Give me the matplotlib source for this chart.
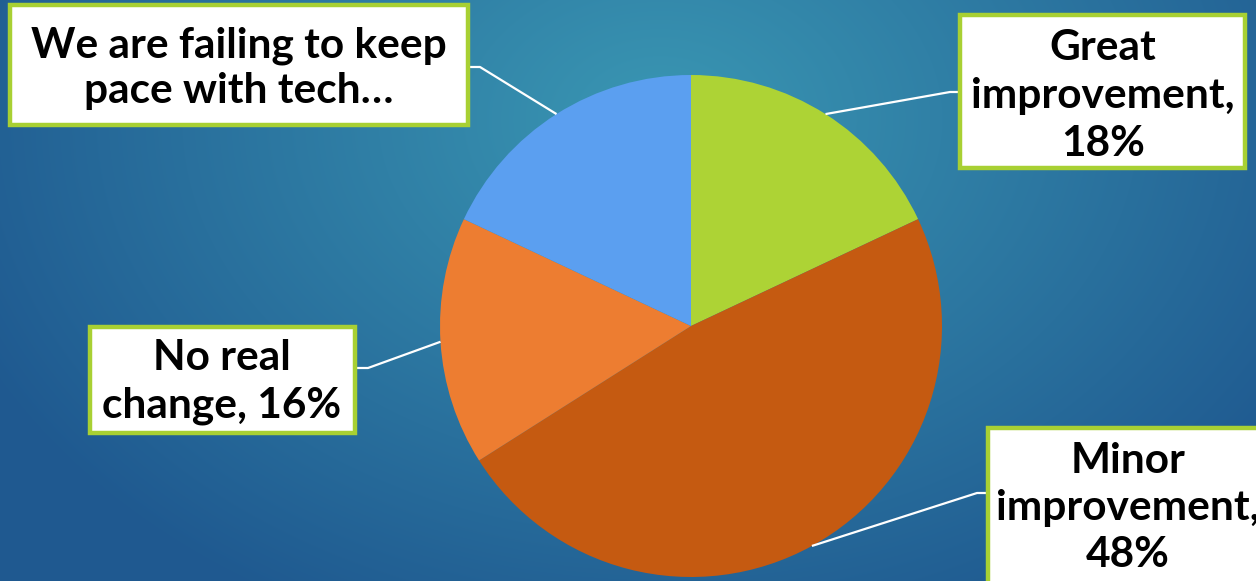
import numpy as np
import matplotlib
matplotlib.use("Agg")
import matplotlib.pyplot as plt
from matplotlib.patches import Rectangle
from matplotlib.colors import to_rgb

# ---- data ----
categories = ["Great improvement", "Minor improvement", "No real change",
              "We are failing to keep pace with tech…"]
values = [18, 48, 16, 18]
label_texts = ["Great\nimprovement,\n18%", "Minor\nimprovement,\n48%",
               "No real\nchange, 16%", "We are failing to keep\npace with tech…"]
colors = ["#ADD335", "#C55A11", "#ED7D31", "#5B9FF0"]

W, H = 1256, 581
fig = plt.figure(figsize=(W / 100, H / 100), dpi=100)
ax = fig.add_axes([0, 0, 1, 1])

# background radial gradient
yy, xx = np.mgrid[0:H, 0:W]
cx, cy = 660, H - 120
d = np.sqrt(((xx - cx) / 760.0) ** 2 + ((yy - cy) / 560.0) ** 2)
d = np.clip(d, 0, 1)[..., None]
inner = np.array(to_rgb("#3A97B3"))
outer = np.array(to_rgb("#1F5990"))
img = inner * (1 - d) + outer * d
ax.imshow(img, extent=[0, W, 0, H], origin="lower", zorder=0, aspect="auto")

# pie
center = (691, H - 326)
radius = 251
wedges, _ = ax.pie(values, colors=colors, startangle=90, counterclock=False,
                   center=center, radius=radius, frame=True,
                   wedgeprops=dict(linewidth=0))
for w in wedges:
    w.set_zorder(2)
ax.set_xlim(0, W)
ax.set_ylim(0, H)
ax.set_aspect("equal")
ax.axis("off")

# label boxes (left, top, right, bottom in pixel coords from top) and elbows
boxes = [(960, 15, 1245, 168), (988, 428, 1270, 595), (90, 327, 355, 433), (10, 5, 468, 125)]
text_centers = [(1103, 96), (1128, 508), (222, 382), (239, 68)]
line_sp = [1.33, 1.3, 1.3, 1.22]
elbows = [((950, 92), (960, 92)), ((977, 493), (988, 493)),
          ((368, 368), (355, 368)), ((480, 67), (468, 67))]

cum = 0
for i, v in enumerate(values):
    mid = 90 - (cum + v / 2) / sum(values) * 360
    cum += v
    px = center[0] + radius * np.cos(np.radians(mid))
    py = center[1] + radius * np.sin(np.radians(mid))
    (ex, ey), (bx, by) = elbows[i]
    ax.plot([px, ex, bx], [py, H - ey, H - by], color="white", lw=1.6,
            zorder=3, solid_capstyle="butt")
    l, t, r, b = boxes[i]
    ax.add_patch(Rectangle((l, H - b), r - l, b - t, facecolor="white",
                           edgecolor="#A8D033", lw=3.2, zorder=4))
    tx, ty = text_centers[i]
    ax.text(tx, H - ty, label_texts[i], ha="center", va="center",
            fontsize=30.5, fontweight="bold", family="Lato", color="black",
            linespacing=line_sp[i], zorder=5)

fig.savefig("out.png", dpi=100)
